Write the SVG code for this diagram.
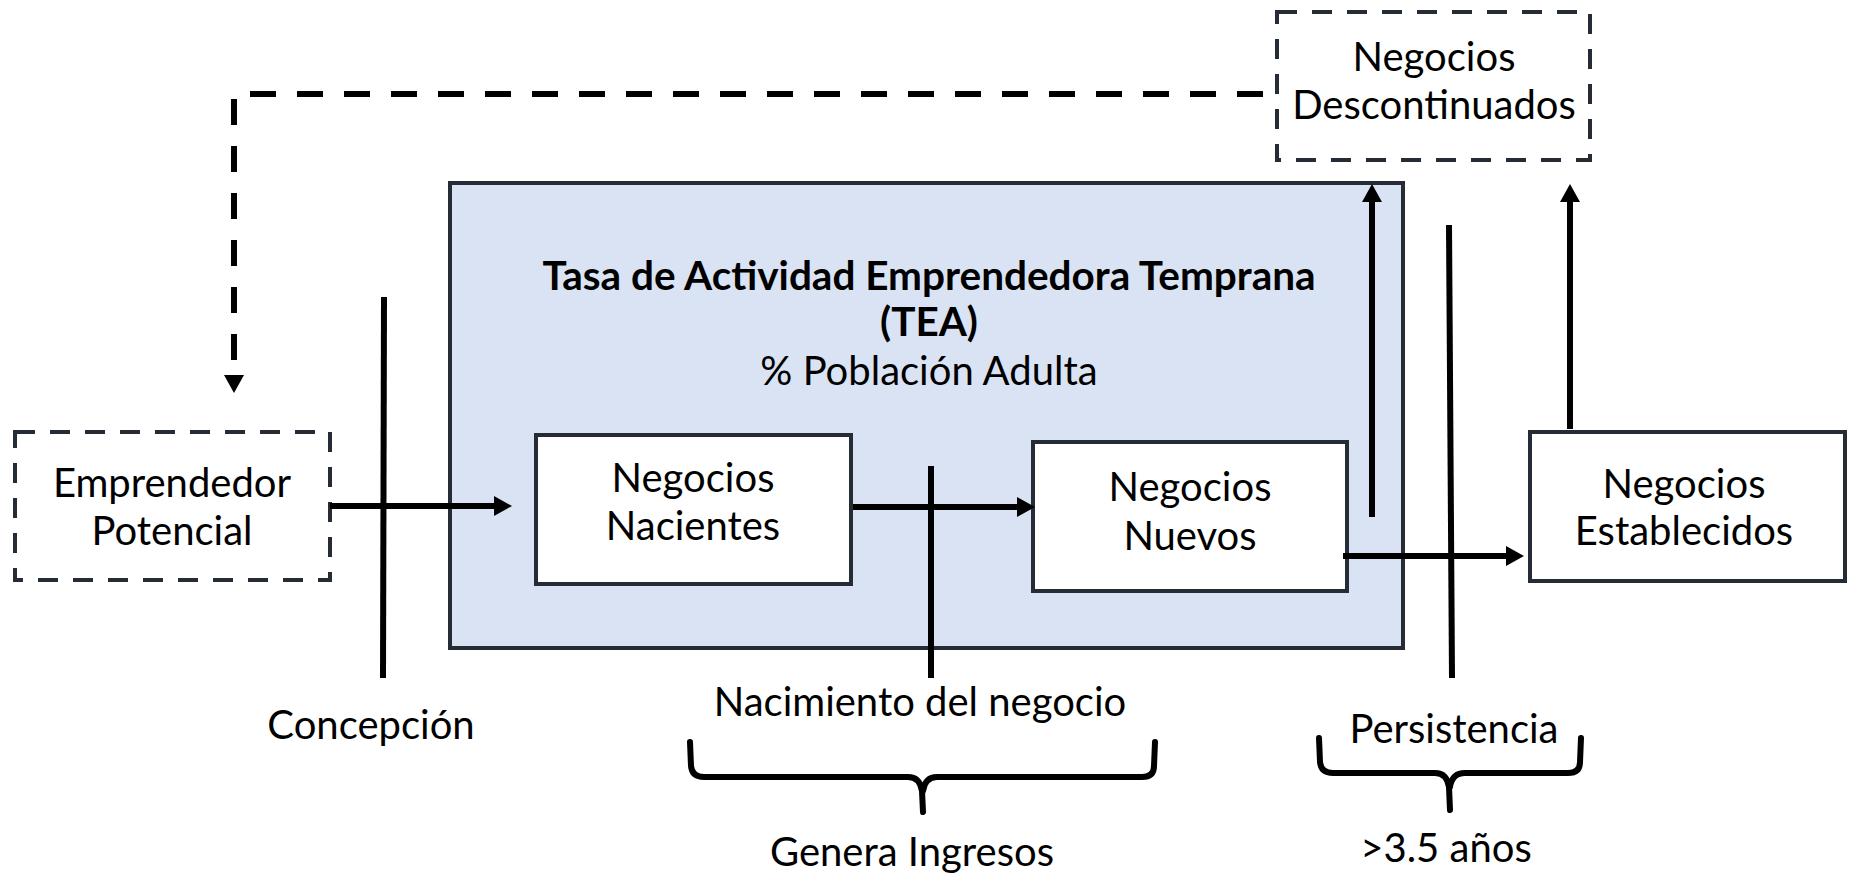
<svg xmlns="http://www.w3.org/2000/svg" width="1851" height="876" viewBox="0 0 1851 876">
<defs>
<marker id="ah" markerUnits="userSpaceOnUse" markerWidth="20" markerHeight="20" viewBox="0 0 18 20" refX="0" refY="10" orient="auto">
<path d="M0,0 L18,10 L0,20 Z" fill="#000"/>
</marker>
<style>
.box{fill:#fff;stroke:#262c36;stroke-width:4}
.dbox{fill:#fff;stroke:#262c36;stroke-width:4;stroke-dasharray:20 15}
.tea{fill:#dae3f3;stroke:#262c36;stroke-width:4}
text{font-family:Lato,"Liberation Sans",sans-serif;fill:#000;text-anchor:middle}
.t{font-size:40px}
.lbl{font-size:40px}
.title{font-size:40.5px;font-weight:bold}
.c{fill:none;stroke:#000;stroke-width:6}
.d{fill:none;stroke:#000;stroke-width:6;stroke-dasharray:26 21}
.br{fill:none;stroke:#000;stroke-width:6;stroke-linejoin:round;stroke-linecap:round}
</style>
</defs>
<g id="tea">
<rect class="tea" x="450" y="183" width="953" height="465"/>
<text class="title" x="929" y="290">Tasa de Actividad Emprendedora Temprana</text>
<text class="title" x="929" y="336">(TEA)</text>
<text class="t" x="929" y="385">% Población Adulta</text>
</g>
<g id="emprendedor">
<rect class="dbox" x="15" y="432" width="315" height="148"/>
<text class="t" x="172" y="497">Emprendedor</text>
<text class="t" x="172" y="545">Potencial</text>
</g>
<g id="nacientes">
<rect class="box" x="536" y="435" width="315" height="149"/>
<text class="t" x="693" y="492">Negocios</text>
<text class="t" x="693" y="540">Nacientes</text>
</g>
<g id="nuevos">
<rect class="box" x="1033" y="442" width="314" height="149"/>
<text class="t" x="1190" y="501">Negocios</text>
<text class="t" x="1190" y="550">Nuevos</text>
</g>
<g id="establecidos">
<rect class="box" x="1530" y="432" width="315" height="149"/>
<text class="t" x="1684" y="498">Negocios</text>
<text class="t" x="1684" y="545">Establecidos</text>
</g>
<g id="descontinuados">
<rect class="dbox" x="1277" y="12" width="313" height="148"/>
<text class="t" x="1434" y="71">Negocios</text>
<text class="t" x="1434" y="119">Descontinuados</text>
</g>
<g id="connectors">
<line class="c" x1="330" y1="506" x2="494" y2="506" marker-end="url(#ah)"/>
<line class="c" x1="853" y1="507" x2="1017" y2="507" marker-end="url(#ah)"/>
<line class="c" x1="1343" y1="556" x2="1506" y2="556" marker-end="url(#ah)"/>
<line class="c" x1="1372" y1="517" x2="1372" y2="202" marker-end="url(#ah)"/>
<line class="c" x1="1570" y1="429" x2="1570" y2="202" marker-end="url(#ah)"/>
<polyline class="d" points="1263,94 234,94 234,375" marker-end="url(#ah)"/>
</g>
<g id="stages">
<line class="c" x1="384" y1="297" x2="383" y2="678"/>
<line class="c" x1="931" y1="466" x2="931" y2="678"/>
<line class="c" x1="1449" y1="225" x2="1452" y2="678"/>
<text class="lbl" x="371" y="739">Concepción</text>
<text class="lbl" x="920" y="716">Nacimiento del negocio</text>
<text class="lbl" x="1454" y="743">Persistencia</text>
<path class="br" d="M690,742 L691,766 Q692,777 704,777 L908,777 Q920,777 922,791 L923,812 M923,791 Q925,777 937,777 L1142,777 Q1154,777 1154,766 L1155,742"/>
<path class="br" d="M1319,738 L1320,762 Q1321,773 1333,773 L1435,773 Q1447,773 1449,787 L1450,810 M1450,787 Q1452,773 1465,773 L1568,773 Q1580,773 1580,762 L1581,738"/>
<text class="lbl" x="912" y="866">Genera Ingresos</text>
<text class="lbl" x="1446" y="862">&gt;3.5 años</text>
</g>
</svg>
